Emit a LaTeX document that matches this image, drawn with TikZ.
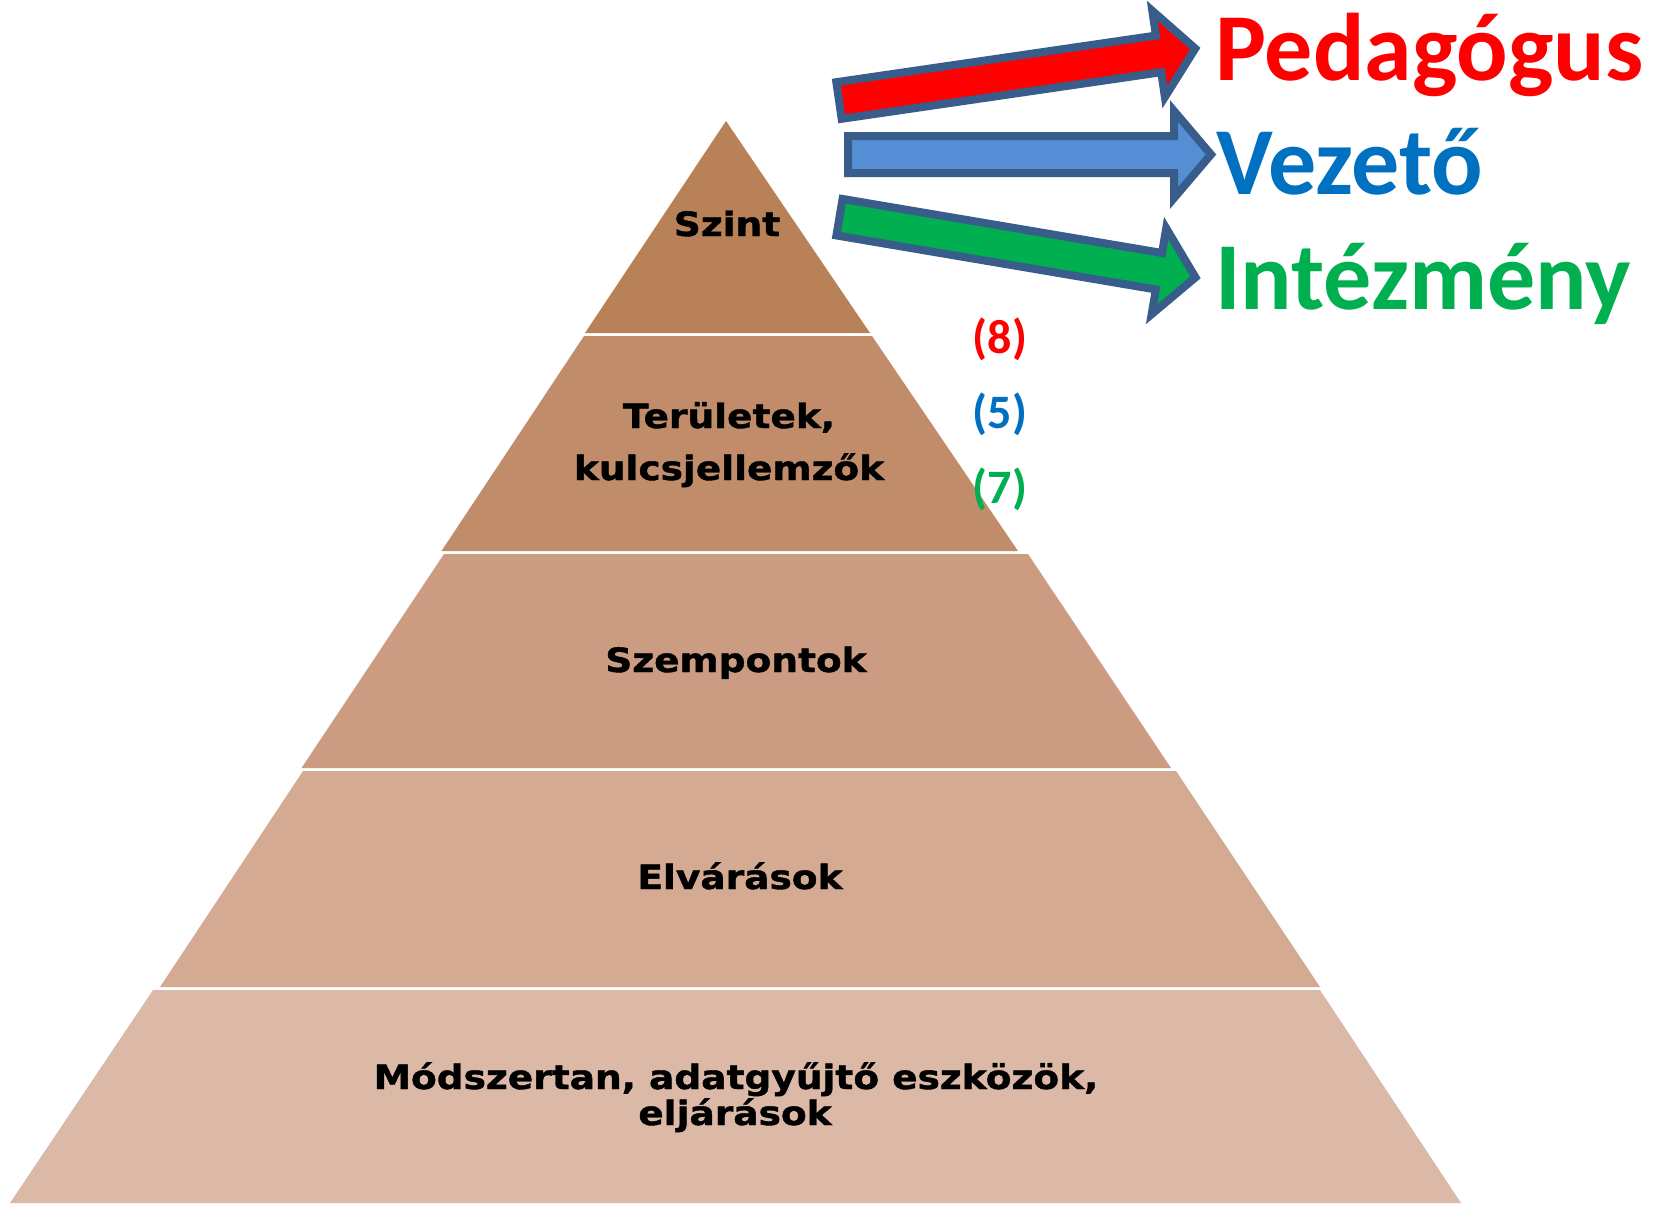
\documentclass[tikz,border=0pt]{standalone}
\usepackage{fontspec}
\newfontfamily\pyrfont{DejaVu Sans}[FakeStretch=1.12, FakeBold=1.2]
\newfontfamily\calfont{Carlito}
\definecolor{layA}{RGB}{184,129,87}
\definecolor{layB}{RGB}{193,140,106}
\definecolor{layC}{RGB}{203,156,129}
\definecolor{layD}{RGB}{212,170,146}
\definecolor{layE}{RGB}{220,185,166}
\definecolor{arrowline}{RGB}{56,93,138}
\definecolor{arrowblue}{RGB}{85,142,213}
\definecolor{myred}{RGB}{255,0,0}
\definecolor{myblue}{RGB}{0,112,192}
\definecolor{mygreen}{RGB}{0,176,80}
\tikzset{
  blockarrowstyle/.style={draw=arrowline, line width=8pt, line join=miter},
  pyrtext/.style={font=\pyrfont\bfseries\fontsize{33.5}{40}\selectfont, inner sep=0pt, anchor=base, text=black},
  biglabel/.style={font=\calfont\bfseries\fontsize{96}{100}\selectfont, inner sep=0pt, anchor=base west},
  numlabel/.style={font=\calfont\bfseries\fontsize{48}{50}\selectfont, inner sep=0pt, anchor=base}
}
\begin{document}
\begin{tikzpicture}[x=1pt,y=-1pt]
\useasboundingbox (0,0) rectangle (1655,1205);
\fill[white] (0,0) rectangle (1655,1205);
% pyramid layers
\fill[layA] (726,121) -- (870,333) -- (585,333) -- cycle;
\fill[layB] (584,336) -- (872,336) -- (1018,551) -- (441.5,551) -- cycle;
\fill[layC] (444,554) -- (1028,554) -- (1171,768) -- (301.5,768) -- cycle;
\fill[layD] (303,771) -- (1176,771) -- (1320,987) -- (160,987) -- cycle;
\fill[layE] (153,990) -- (1320,990) -- (1461,1203) -- (10,1203) -- cycle;
% pyramid texts
\node[pyrtext] (szint) at (727,236) {Szint};
\node[pyrtext] (terA) at (729,428) {Területek,};
\node[pyrtext] (terB) at (729,480) {kulcsjellemzők};
\node[pyrtext] (szemp) at (736,672) {Szempontok};
\node[pyrtext] (elv) at (740,889) {Elvárások};
\node[pyrtext] (modA) at (736,1089) {Módszertan, adatgyűjtő eszközök,};
\node[pyrtext] (modB) at (735,1125) {eljárások};
% block arrows
\draw[blockarrowstyle, fill=myred, shift={(839,100.5)}, rotate=8.3]
  (0,-18.5) -- (323,-18.5) -- (323,-43.5) -- (360,0) -- (323,43.5) -- (323,18.5) -- (0,18.5) -- cycle;
\draw[blockarrowstyle, fill=arrowblue, shift={(848,154.5)}]
  (0,-18.5) -- (326,-18.5) -- (326,-43.5) -- (363,0) -- (326,43.5) -- (326,18.5) -- (0,18.5) -- cycle;
\draw[blockarrowstyle, fill=mygreen, shift={(839.5,217.2)}, rotate=-9.6]
  (0,-18.5) -- (324,-18.5) -- (324,-43.5) -- (361,0) -- (324,43.5) -- (324,18.5) -- (0,18.5) -- cycle;
% labels
\node[biglabel, text=myred] (ped) at (1215,80) {Pedagógus};
\node[biglabel, text=myblue] (vez) at (1216,194) {Vezető};
\node[biglabel, text=mygreen] (int) at (1215,309) {Intézmény};
\node[numlabel, text=myred] (n8) at (1000,353) {(8)};
\node[numlabel, text=myblue] (n5) at (1000,428) {(5)};
\node[numlabel, text=mygreen] (n7) at (1000,503) {(7)};
\end{tikzpicture}
\end{document}
